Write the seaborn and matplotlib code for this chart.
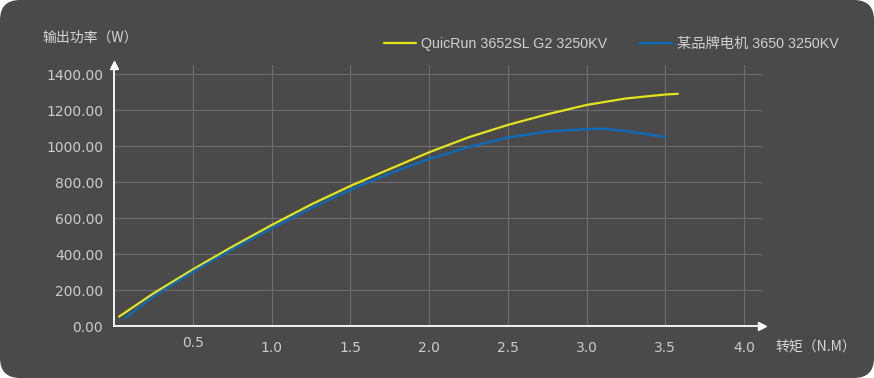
import matplotlib
matplotlib.use("Agg")
import matplotlib.pyplot as plt
import matplotlib.transforms as mtransforms
from matplotlib.patches import FancyBboxPatch
import seaborn as sns
import pandas as pd

# ---- data ----
series_a_name = "QuicRun 3652SL G2 3250KV"
series_a_torque = [0.03, 0.25, 0.5, 0.75, 1.0, 1.25, 1.5, 1.75, 2.0, 2.25, 2.5, 2.75, 3.0, 3.25, 3.5, 3.58]
series_a_power = [52, 182, 315, 441, 561, 675, 778, 872, 965, 1048, 1117, 1176, 1228, 1264, 1286, 1290]

series_b_name = "某品牌电机 3650 3250KV"
series_b_torque = [0.07, 0.25, 0.5, 0.75, 1.0, 1.25, 1.5, 1.75, 2.0, 2.25, 2.5, 2.75, 3.0, 3.1, 3.25, 3.5]
series_b_power = [45, 165, 302, 426, 543, 655, 757, 848, 928, 993, 1047, 1080, 1094, 1096, 1083, 1050]

x_ticks = [0.5, 1.0, 1.5, 2.0, 2.5, 3.0, 3.5, 4.0]
x_tick_labels = ["0.5", "1.0", "1.5", "2.0", "2.5", "3.0", "3.5", "4.0"]
y_ticks = [0, 200, 400, 600, 800, 1000, 1200, 1400]
y_tick_labels = ["%.2f" % v for v in y_ticks]
y_title = "输出功率（W）"
x_title = "转矩（N.M）"

colors = {series_a_name: "#e4e41c", series_b_name: "#0a6cbf"}

df = pd.concat([
    pd.DataFrame({"torque": series_a_torque, "power": series_a_power, "series": series_a_name}),
    pd.DataFrame({"torque": series_b_torque, "power": series_b_power, "series": series_b_name}),
], ignore_index=True)

sns.set_style("dark")
plt.rcParams['font.family'] = ['DejaVu Sans', 'Noto Sans CJK SC']

W, H = 874, 378
fig = plt.figure(figsize=(W / 100, H / 100), dpi=100)
fig.patch.set_facecolor("white")
bg = FancyBboxPatch((0, 0), W / 100, H / 100, boxstyle="round,pad=0,rounding_size=0.2",
                    transform=fig.dpi_scale_trans, facecolor="#4a4a4a", edgecolor="none",
                    zorder=-10)
fig.patches.append(bg)

left, right, bottom, top = 114.3, 762, 326, 65
ax = fig.add_axes([left / W, (H - bottom) / H, (right - left) / W, (bottom - top) / H])
ax.set_facecolor("none")
ax.set_zorder(5)

sns.lineplot(data=df, x="torque", y="power", hue="series", palette=colors,
             linewidth=1.6, ax=ax, sort=False, legend=True)

ax.set_xlim(0, (right - left) / 157.4)
ax.set_ylim(0, (bottom - top) * 200 / 36)
ax.set_xticks(x_ticks)
ax.set_xticklabels(x_tick_labels)
ax.set_yticks(y_ticks)
ax.set_yticklabels(y_tick_labels)
ax.tick_params(axis="both", length=0, colors="#cccccc", labelsize=10)
ax.tick_params(axis="y", pad=8)
ax.tick_params(axis="x", pad=11)
ax.grid(True, color="#6e6e6e", linewidth=0.8)
ax.set_axisbelow(True)
ax.set_xlabel("")
ax.set_ylabel("")
for s in ["top", "right"]:
    ax.spines[s].set_visible(False)
for s in ["left", "bottom"]:
    ax.spines[s].set_visible(True)
    ax.spines[s].set_color("white")
    ax.spines[s].set_linewidth(1.3)

# arrow heads
ax.plot(1, 0, ">", color="white", markersize=6, transform=ax.transAxes, clip_on=False)
ax.plot(0, 1, "^", color="white", markersize=6, transform=ax.transAxes, clip_on=False)

# first x label sits a little higher
lab0 = ax.get_xticklabels()[0]
lab0.set_transform(lab0.get_transform() + mtransforms.ScaledTranslation(0, 5 / 100, fig.dpi_scale_trans))

fig.text(42 / W, 1 - 38 / H, y_title, color="#d6d6d6", fontsize=10, va="center", ha="left",
         family=['Noto Sans CJK SC', 'DejaVu Sans'])
fig.text(775 / W, 1 - 348 / H, x_title, color="#d6d6d6", fontsize=10, va="center", ha="left",
         family=['Noto Sans CJK SC', 'DejaVu Sans'])

handles, labels = ax.get_legend_handles_labels()
leg = ax.legend(handles, labels, ncol=2, frameon=False, loc="center left",
                bbox_to_anchor=(371 / W, 1 - 44 / H), bbox_transform=fig.transFigure,
                handlelength=2.25, handletextpad=0.35, columnspacing=2.3,
                prop={"family": ['Liberation Sans', 'Noto Sans CJK SC'], "size": 10.3})
for t in leg.get_texts():
    t.set_color("#d0d0d0")

fig.savefig("out.png", dpi=100, facecolor="white")
